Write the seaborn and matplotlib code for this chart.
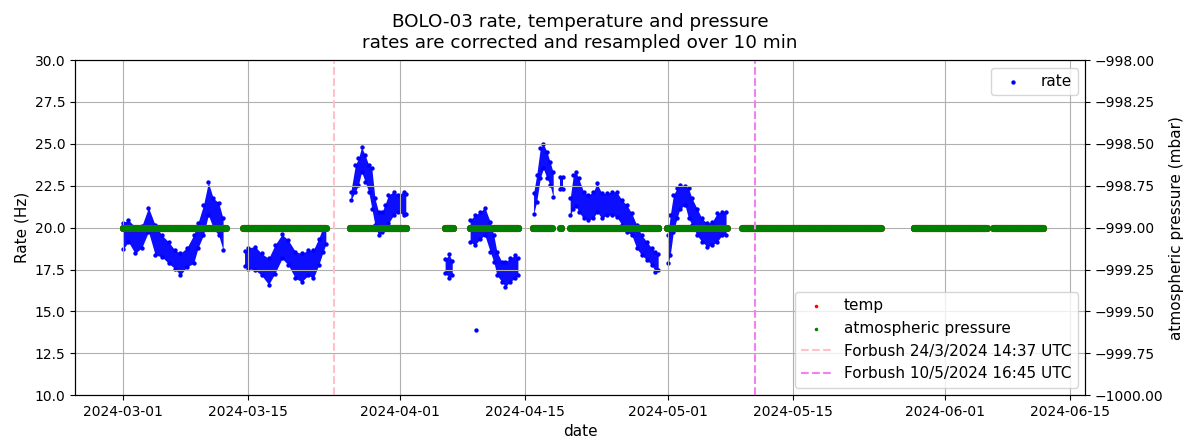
import numpy as np
import pandas as pd
import matplotlib
matplotlib.use("Agg")
import matplotlib.pyplot as plt
import seaborn as sns

START = pd.Timestamp("2024-03-01")

# ---- rate (Hz): lower / upper envelope, days after 2024-03-01
rate_seg = ([1] * 18 + [2] * 15 + [3] * 16 + [4] * 3 + [5] * 12 + [6] * 7 + [7] * 2
            + [8] * 21 + [9] * 15)
rate_day = [0, 0.6, 1.35, 2.1, 2.85, 3.6, 4.35, 5.1, 5.8, 6.4, 7.15, 7.9, 8.4, 9.0, 9.55, 10.1, 10.7, 11.2,
            13.6, 14.0, 14.8, 15.5, 16.3, 17.0, 17.8, 18.5, 19.3, 20.0, 20.75, 21.3, 21.9, 22.4, 22.7,
            25.5, 26.0, 26.35, 26.7, 27.1, 27.5, 27.85, 28.2, 28.6, 29.0, 29.3, 29.7, 30.3, 30.8, 31.4, 31.65,
            36.05, 36.5, 36.85,
            38.85, 39.4, 40.0, 40.5, 41.1, 41.5, 41.85, 42.4, 42.8, 43.3, 43.9, 44.2,
            45.95, 46.3, 46.7, 47.05, 47.45, 47.8, 48.15,
            48.95, 49.3,
            50.05, 50.4, 50.7, 51.0, 51.55, 52.1, 52.65, 53.05, 53.6, 54.15, 54.7, 55.25, 55.85, 56.4, 56.95,
            57.5, 58.05, 58.65, 59.2, 59.6, 59.9,
            61.0, 61.25, 61.6, 62.0, 62.35, 62.9, 63.3, 63.7, 64.25, 64.8, 65.4, 65.95, 66.5, 67.05, 67.5]
rate_lo = [18.7, 19.15, 18.46, 18.8, 19.75, 18.36, 18.26, 17.86, 17.56, 17.16, 17.66, 17.86, 18.8, 19.55, 20.75, 19.97, 19.55, 18.66,
           17.7, 17.56, 17.46, 17.16, 16.6, 17.26, 18.16, 17.76, 16.97, 16.77, 17.16, 16.97, 17.76, 18.56, 19.0,
           21.64, 22.14, 22.54, 23.33, 22.74, 22.14, 21.14, 20.15, 19.55, 19.75, 20.05, 20.25, 20.75, 20.95, 20.75, 20.8,
           17.3, 17.0, 17.2,
           19.15, 18.96, 19.35, 19.55, 18.56, 17.96, 17.16, 16.77, 16.47, 16.77, 16.97, 17.2,
           20.8, 21.54, 22.94, 23.53, 22.94, 22.54, 21.8,
           22.3, 22.3,
           20.75, 21.14, 21.3, 20.95, 20.55, 20.45, 20.55, 20.95, 20.55, 20.75, 20.75, 20.65, 20.15, 19.75, 19.55,
           18.76, 18.36, 18.06, 17.76, 17.36, 17.5,
           17.86, 18.36, 19.75, 20.55, 21.14, 21.34, 20.55, 20.15, 19.55, 19.15, 18.86, 18.96, 19.15, 19.55, 19.55]
rate_hi = [20.3, 20.45, 20.05, 20.1, 21.2, 20.15, 19.55, 19.15, 18.66, 18.46, 18.8, 19.55, 20.3, 21.34, 22.7, 21.75, 21.5, 20.55,
           18.6, 18.8, 18.86, 18.46, 18.16, 18.96, 19.6, 19.25, 18.56, 18.46, 18.66, 18.66, 19.35, 20.05, 20.0,
           22.14, 23.73, 24.13, 24.8, 24.33, 23.73, 23.53, 21.74, 20.95, 20.95, 21.34, 21.94, 22.14, 21.94, 22.14, 22.0,
           18.1, 18.4, 18.0,
           20.45, 20.75, 20.95, 21.2, 20.35, 19.55, 18.56, 17.96, 17.96, 18.16, 18.36, 18.2,
           22.05, 23.13, 24.73, 25.0, 24.53, 23.93, 23.3,
           23.0, 23.0,
           21.74, 23.13, 23.33, 22.94, 22.14, 21.94, 22.14, 22.64, 22.04, 22.04, 22.14, 22.14, 21.64, 21.34, 20.85,
           20.15, 19.55, 19.15, 18.76, 18.56, 18.4,
           19.55, 20.75, 21.94, 22.34, 22.54, 22.5, 22.34, 21.74, 21.14, 20.55, 20.25, 20.35, 20.85, 20.95, 20.95]
outlier_day = [39.5]
outlier_rate = [13.9]

# ---- pressure / temperature (constant -999 in the record), coverage periods in days
press_start = [0, 13.45, 25.4, 36.05, 38.85, 45.9, 48.95, 50.05, 60.9, 69.3, 88.5, 97.4]
press_end = [11.5, 22.7, 31.7, 36.95, 44.25, 48.0, 49.05, 59.95, 67.6, 84.8, 96.7, 103.0]
press_value = -999.0

forbush_times = ["2024-03-24 14:37", "2024-05-10 16:45"]
forbush_labels = ["Forbush 24/3/2024 14:37 UTC", "Forbush 10/5/2024 16:45 UTC"]
forbush_colors = ["pink", "violet"]

# ---------------------------------------------------------------------------
plt.rcParams["font.size"] = 11
plt.rcParams["xtick.labelsize"] = 10
plt.rcParams["ytick.labelsize"] = 10


def to_date(days):
    return START + pd.to_timedelta(np.asarray(days, dtype=float), unit="D")


rate = pd.DataFrame({"seg": rate_seg, "date": to_date(rate_day), "lo": rate_lo, "hi": rate_hi})
pts = pd.concat([
    pd.DataFrame({"date": rate["date"], "rate": rate["lo"]}),
    pd.DataFrame({"date": rate["date"], "rate": rate["hi"]}),
    pd.DataFrame({"date": to_date(outlier_day), "rate": outlier_rate}),
], ignore_index=True)

p_dates = []
for s, e in zip(press_start, press_end):
    p_dates.append(pd.date_range(to_date([s])[0], to_date([e])[0], freq="1h"))
p_dates = p_dates[0].append(p_dates[1:])
press = pd.DataFrame({"date": p_dates, "p": press_value})

fig = plt.figure(figsize=(11.99, 4.42), dpi=100)
ax = fig.add_axes([0.0626, 0.106, 0.8425, 0.758])
ax2 = ax.twinx()

for sid, g in rate.groupby("seg"):
    ax.fill_between(g["date"], g["lo"], g["hi"], color="blue", lw=0, alpha=0.95)
sns.scatterplot(data=pts, x="date", y="rate", ax=ax, color="blue", s=10,
                linewidth=0, label="rate")
ax.set_ylim(10, 30)
ax.set_xlim(to_date([-5.37])[0], to_date([107.7])[0])
ax.grid(True)
ax.set_xlabel("date")
ax.set_ylabel("Rate (Hz)")
ax.legend(loc="upper right")

sns.scatterplot(data=press, x="date", y="p", ax=ax2, color="red", s=26, linewidth=0, label="temp")
sns.scatterplot(data=press, x="date", y="p", ax=ax2, color="green", s=26, linewidth=0,
                label="atmospheric pressure")
for t, lab, c in zip(forbush_times, forbush_labels, forbush_colors):
    ax2.axvline(pd.Timestamp(t), color=c, ls="--", label=lab)
ax2.set_ylim(-1000, -998)
ax2.ticklabel_format(axis="y", useOffset=False)
ax2.set_ylabel("atmospheric pressure (mbar)")
ax2.legend(loc="lower right", markerscale=0.5)

ax.set_title("BOLO-03 rate, temperature and pressure\nrates are corrected and resampled over 10 min",
             pad=9)

fig.savefig("out.png", dpi=100)
